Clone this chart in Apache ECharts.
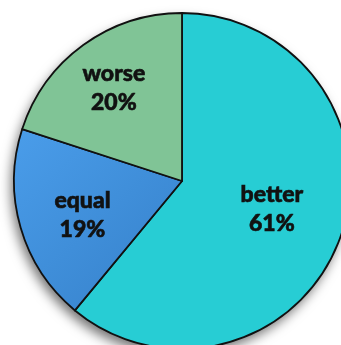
<!DOCTYPE html>
<html>
<head>
<meta charset="utf-8">
<script src="https://cdn.jsdelivr.net/npm/echarts@6/dist/echarts.min.js"></script>
<style>
  html, body { margin: 0; padding: 0; background: #fff; }
  #chart { width: 341px; height: 345px; }
</style>
</head>
<body>
<div id="chart"></div>
<script>
// Share of answers per category
const categories = ['better', 'equal', 'worse'];
const shares = [61, 19, 20];
const sliceColors = ['#27CDD4', '#3F8FDB', '#80C496'];
// small nudges of each label away from the mid-radius spot
const labelNudge = [[8, -1], [-16, 10], [-17, -23]];

const equalFill = new echarts.graphic.LinearGradient(0, 0, 1, 1, [
  { offset: 0, color: '#4A9DEA' },
  { offset: 1, color: '#3580C9' }
]);

const data = categories.map((name, i) => ({
  name: name,
  value: shares[i],
  itemStyle: { color: i === 1 ? equalFill : sliceColors[i] },
  label: { offset: labelNudge[i] }
}));

const pieCenter = [182, 181];
const pieRadius = 168;

const chart = echarts.init(document.getElementById('chart'));
chart.setOption({
  animation: false,
  series: [
    {
      // whole disc underneath, only there to cast the soft drop shadow
      type: 'pie',
      silent: true,
      z: 1,
      center: pieCenter,
      radius: pieRadius,
      data: [{ value: 1, name: '' }],
      itemStyle: {
        color: '#27CDD4',
        shadowColor: 'rgba(0,0,0,0.55)',
        shadowBlur: 12,
        shadowOffsetX: -3,
        shadowOffsetY: 6
      },
      label: { show: false },
      labelLine: { show: false },
      emphasis: { disabled: true }
    },
    {
      type: 'pie',
      z: 2,
      center: pieCenter,
      radius: pieRadius,
      startAngle: 90,
      clockwise: true,
      data: data,
      itemStyle: {
        borderColor: '#111',
        borderWidth: 1.8
      },
      label: {
        position: 'inside',
        formatter: p => p.name + '\n' + p.value + '%',
        color: '#111',
        fontFamily: 'Lato, sans-serif',
        fontWeight: 900,
        fontSize: 23,
        lineHeight: 29,
        align: 'center',
        textBorderColor: '#111',
        textBorderWidth: 0.6
      },
      labelLine: { show: false },
      emphasis: { disabled: true }
    }
  ]
});
</script>
</body>
</html>
